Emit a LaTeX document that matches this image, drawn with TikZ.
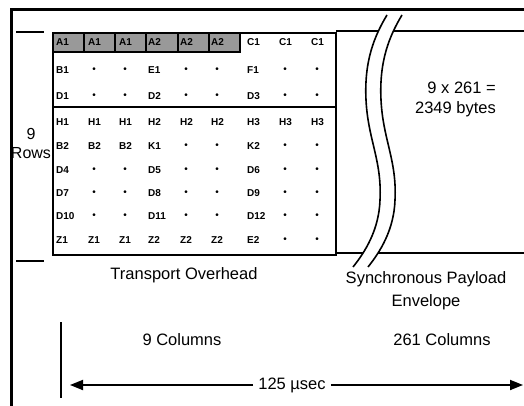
\documentclass[tikz,border=0pt]{standalone}
\usepackage{fontspec}
\setmainfont{Liberation Sans}
\usetikzlibrary{arrows.meta}
\begin{document}
\begin{tikzpicture}[x=1pt,y=-1pt,
  frame/.style={line width=3pt},
  boxline/.style={line width=2pt},
  cell/.style={font=\fontsize{10}{11}\selectfont\bfseries, anchor=west, inner sep=0pt},
  dotc/.style={font=\fontsize{10}{11}\selectfont, anchor=center, inner sep=0pt},
  shadecell/.style={draw, line width=1.6pt, fill=black!40},
  lbl/.style={font=\fontsize{16.5}{20}\selectfont, align=center, inner sep=0pt},
  wave/.style={line width=1.6pt},
  tickline/.style={line width=1.8pt},
  arr/.style={line width=1.8pt, -{Triangle[length=13pt,width=10pt]}}]
\useasboundingbox (0,0) rectangle (524,406);
% outer frame
\draw[frame] (11,406) -- (11,10) -- (524,10);
% row ticks
\draw[tickline] (16,32) -- (44,32);
\draw[tickline] (16,261) -- (44,261);
% payload envelope lines
\draw[boxline] (336,31.5) -- (524,31.5);
\draw[boxline] (336,253) -- (524,253);
% shaded framing cells
\foreach \xa/\xb in {53/84,84/115,115/146,146/178,178/209,209/240}
  \draw[shadecell] (\xa,33) rectangle (\xb,52);
% transport overhead box
\draw[boxline] (53,33) rectangle (336,255);
\draw[boxline] (53,107) -- (336,107);
% cells
\def\dotsym{o}
\foreach \rowy/\items [count=\r] in {
  42/{A1,A1,A1,A2,A2,A2,C1,C1,C1},
  70/{B1,o,o,E1,o,o,F1,o,o},
  96/{D1,o,o,D2,o,o,D3,o,o},
  122/{H1,H1,H1,H2,H2,H2,H3,H3,H3},
  146/{B2,B2,B2,K1,o,o,K2,o,o},
  170/{D4,o,o,D5,o,o,D6,o,o},
  193/{D7,o,o,D8,o,o,D9,o,o},
  216/{D10,o,o,D11,o,o,D12,o,o},
  240/{Z1,Z1,Z1,Z2,Z2,Z2,E2,o,o}}{
  \foreach \t [count=\c] in \items {
    \pgfmathsetmacro\cx{{56,88,119,148,180,211,247,279,311}[\c-1]}
    \edef\tmp{\t}
    \ifx\tmp\dotsym
      \node[dotc] (c\r-\c) at (\cx+6,\rowy) {•};
    \else
      \node[cell] (c\r-\c) at (\cx,\rowy) {\t};
    \fi
  }
}
% break (wave) lines
\fill[white] (387,15) .. controls (375,35) and (364,60) .. (366,100)
  .. controls (368,140) and (382,160) .. (380,200)
  .. controls (379,230) and (365,252) .. (353,267)
  -- (368,267) .. controls (380,252) and (394,230) .. (395,200)
  .. controls (397,160) and (383,140) .. (381,100)
  .. controls (379,60) and (390,35) .. (402,15) -- cycle;
\draw[wave] (387,15) .. controls (375,35) and (364,60) .. (366,100)
  .. controls (368,140) and (382,160) .. (380,200)
  .. controls (379,230) and (365,252) .. (353,267);
\draw[wave] (402,15) .. controls (390,35) and (379,60) .. (381,100)
  .. controls (383,140) and (397,160) .. (395,200)
  .. controls (394,230) and (380,252) .. (368,267);
% labels
\node[lbl, font=\fontsize{16}{19}\selectfont] (rows) at (31,143) {9\\Rows};
\node[lbl, align=right, anchor=east] (bytes) at (496,99) {9 x 261 =\\2349 bytes};
\node[lbl] (toh) at (184,275) {Transport Overhead};
\node[lbl, font=\fontsize{16.5}{23}\selectfont] (spe) at (426,291) {Synchronous Payload\\Envelope};
\node[lbl] (ncol) at (182,340) {9 Columns};
\node[lbl] (pcol) at (442,340) {261 Columns};
% time span
\draw[line width=1.5pt] (61,322) -- (61,398);
\node[lbl, inner xsep=5pt] (usec) at (292,385) {125 µsec};
\coordinate (arrL) at (70,385);
\coordinate (arrR) at (523,385);
\draw[arr] (usec.west) -- (arrL);
\draw[arr] (usec.east) -- (arrR);
\end{tikzpicture}
\end{document}
